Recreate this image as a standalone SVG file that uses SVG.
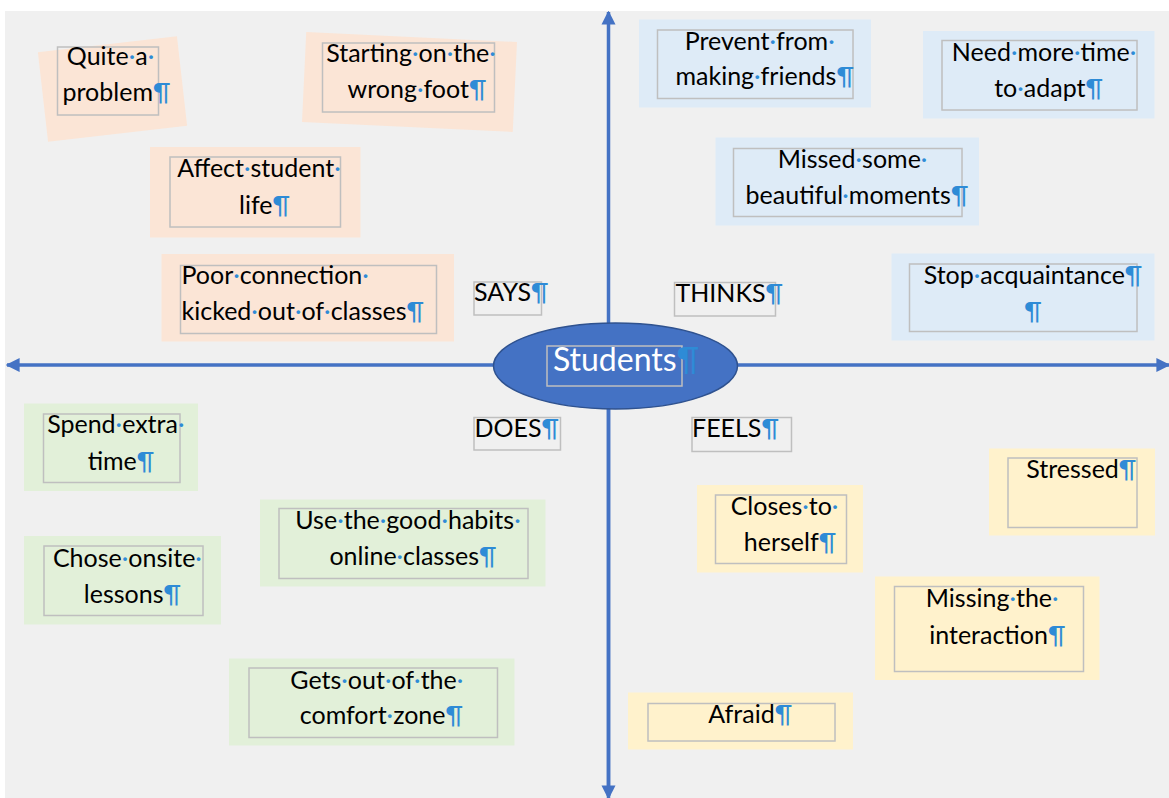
<svg xmlns="http://www.w3.org/2000/svg" width="1169" height="798" viewBox="0 0 1169 798">
<style>
.t{font-family:Lato,"Liberation Sans",sans-serif;font-size:25px;fill:#000;text-anchor:middle}
.l{text-anchor:start}
.m{fill:#2e8bd6}
.box{fill:none;stroke:#bfbfbf;stroke-width:1.5}
.pk{fill:#fbe5d6}
.bl{fill:#deebf7}
.gr{fill:#e2f0d9}
.yl{fill:#fff2cc}
.ax{stroke:#4472c4;stroke-width:3.5;fill:none}
</style>
<defs>
<marker id="ah" viewBox="0 0 10 10" refX="9" refY="5" markerWidth="4" markerHeight="4.3" orient="auto" markerUnits="strokeWidth">
<path d="M0,0 L10,5 L0,10 Z" fill="#4472c4"/>
</marker>
</defs>
<rect x="0" y="0" width="1169" height="798" fill="#ffffff"/>
<rect x="5" y="11" width="1164" height="787" fill="#f0f0f0"/>

<g id="connectors">
<line class="ax" x1="608.5" y1="796" x2="608.5" y2="12" marker-end="url(#ah)"/>
<line class="ax" x1="608.5" y1="366" x2="608.5" y2="798" marker-end="url(#ah)"/>
<line class="ax" x1="615" y1="365" x2="7" y2="365" marker-end="url(#ah)"/>
<line class="ax" x1="615" y1="365" x2="1169" y2="365" marker-end="url(#ah)"/>
</g>

<g id="center">
<ellipse cx="615.5" cy="366" rx="122" ry="43" fill="#4472c4" stroke="#2f528f" stroke-width="1.5"/>
<rect class="box" x="547" y="346" width="135" height="40"/>
<text class="t" x="626" y="371" style="font-size:32px"><tspan fill="#ffffff">Students</tspan><tspan class="m">¶</tspan></text>
</g>

<g id="says-quite">
<rect class="pk" x="42.5" y="44" width="140" height="90" transform="rotate(-6.5 112.5 89)"/>
<rect class="box" x="57.5" y="47" width="101" height="68"/>
<text class="t" x="110.5" y="65">Quite<tspan class="m">·</tspan>a<tspan class="m">·</tspan></text>
<text class="t" x="116.5" y="101">problem<tspan class="m">¶</tspan></text>
</g>

<g id="says-starting">
<rect class="pk" x="304" y="37" width="211" height="90" transform="rotate(2.7 409.5 82)"/>
<rect class="box" x="322.5" y="43" width="172" height="69"/>
<text class="t" x="411" y="62">Starting<tspan class="m">·</tspan>on<tspan class="m">·</tspan>the<tspan class="m">·</tspan></text>
<text class="t" x="417" y="98">wrong<tspan class="m">·</tspan>foot<tspan class="m">¶</tspan></text>
</g>

<g id="says-affect">
<rect class="pk" x="150" y="147" width="210.5" height="90.5"/>
<rect class="box" x="170" y="157" width="170.5" height="70"/>
<text class="t" x="259" y="177">Affect<tspan class="m">·</tspan>student<tspan class="m">·</tspan></text>
<text class="t" x="264.5" y="213.5">life<tspan class="m">¶</tspan></text>
</g>

<g id="says-poor">
<rect class="pk" x="161.5" y="254" width="292.5" height="87.5"/>
<rect class="box" x="180.5" y="265.5" width="256" height="68"/>
<text class="t l" x="181.5" y="283.5">Poor<tspan class="m">·</tspan>connection<tspan class="m">·</tspan></text>
<text class="t l" x="181.5" y="320">kicked<tspan class="m">·</tspan>out<tspan class="m">·</tspan>of<tspan class="m">·</tspan>classes<tspan class="m">¶</tspan></text>
</g>

<g id="label-says">
<rect class="box" x="474" y="282" width="67.5" height="33"/>
<text class="t l" x="474" y="300.5">SAYS<tspan class="m">¶</tspan></text>
</g>

<g id="thinks-prevent">
<rect class="bl" x="639" y="19.5" width="232" height="88"/>
<rect class="box" x="657.5" y="30" width="195.5" height="68.5"/>
<text class="t" x="759.7" y="49.5">Prevent<tspan class="m">·</tspan>from<tspan class="m">·</tspan></text>
<text class="t" x="764.7" y="84.5">making<tspan class="m">·</tspan>friends<tspan class="m">¶</tspan></text>
</g>

<g id="thinks-need">
<rect class="bl" x="923" y="31" width="231.5" height="87.5"/>
<rect class="box" x="942" y="40.5" width="195" height="69.5"/>
<text class="t" x="1044" y="61">Need<tspan class="m">·</tspan>more<tspan class="m">·</tspan>time<tspan class="m">·</tspan></text>
<text class="t" x="1048.6" y="96.5">to<tspan class="m">·</tspan>adapt<tspan class="m">¶</tspan></text>
</g>

<g id="thinks-missed">
<rect class="bl" x="715.5" y="137.5" width="263.5" height="88"/>
<rect class="box" x="733.5" y="148.5" width="228.5" height="68"/>
<text class="t" x="852.5" y="167.5">Missed<tspan class="m">·</tspan>some<tspan class="m">·</tspan></text>
<text class="t" x="857" y="204">beautiful<tspan class="m">·</tspan>moments<tspan class="m">¶</tspan></text>
</g>

<g id="label-thinks">
<rect class="box" x="674.5" y="282.5" width="101" height="33.5"/>
<text class="t l" x="675.5" y="301.5">THINKS<tspan class="m">¶</tspan></text>
</g>

<g id="thinks-stop">
<rect class="bl" x="891.5" y="253.5" width="263" height="87"/>
<rect class="box" x="909.5" y="264" width="227.5" height="67.5"/>
<text class="t" x="1033" y="283.5">Stop<tspan class="m">·</tspan>acquaintance<tspan class="m">¶</tspan></text>
<text class="t" x="1033" y="320"><tspan class="m">¶</tspan></text>
</g>

<g id="does-spend">
<rect class="gr" x="24" y="403.5" width="174" height="87.5"/>
<rect class="box" x="43.5" y="414" width="136.5" height="68.5"/>
<text class="t" x="115.8" y="433">Spend<tspan class="m">·</tspan>extra<tspan class="m">·</tspan></text>
<text class="t" x="121" y="469.5">time<tspan class="m">¶</tspan></text>
</g>

<g id="label-does">
<rect class="box" x="474" y="417.5" width="86.5" height="32.5"/>
<text class="t l" x="474.5" y="436.5">DOES<tspan class="m">¶</tspan></text>
</g>

<g id="does-use">
<rect class="gr" x="260" y="499.5" width="285.5" height="87"/>
<rect class="box" x="279" y="508.5" width="249" height="70"/>
<text class="t" x="408" y="528.5">Use<tspan class="m">·</tspan>the<tspan class="m">·</tspan>good<tspan class="m">·</tspan>habits<tspan class="m">·</tspan></text>
<text class="t" x="413" y="565">online<tspan class="m">·</tspan>classes<tspan class="m">¶</tspan></text>
</g>

<g id="does-chose">
<rect class="gr" x="24" y="536" width="197" height="88.5"/>
<rect class="box" x="44" y="546" width="159" height="69.5"/>
<text class="t" x="127.4" y="567">Chose<tspan class="m">·</tspan>onsite<tspan class="m">·</tspan></text>
<text class="t" x="132.4" y="603">lessons<tspan class="m">¶</tspan></text>
</g>

<g id="does-gets">
<rect class="gr" x="229" y="658.5" width="285.5" height="87"/>
<rect class="box" x="249" y="668" width="248.5" height="69.5"/>
<text class="t" x="376.8" y="688.5">Gets<tspan class="m">·</tspan>out<tspan class="m">·</tspan>of<tspan class="m">·</tspan>the<tspan class="m">·</tspan></text>
<text class="t" x="381.4" y="724">comfort<tspan class="m">·</tspan>zone<tspan class="m">¶</tspan></text>
</g>

<g id="label-feels">
<rect class="box" x="692" y="417.5" width="99.5" height="34"/>
<text class="t l" x="692" y="437">FEELS<tspan class="m">¶</tspan></text>
</g>

<g id="feels-stressed">
<rect class="yl" x="989" y="448.5" width="166" height="87"/>
<rect class="box" x="1008" y="458" width="129" height="69.5"/>
<text class="t" x="1081.3" y="478">Stressed<tspan class="m">¶</tspan></text>
</g>

<g id="feels-closes">
<rect class="yl" x="697" y="485" width="166" height="87.5"/>
<rect class="box" x="715.5" y="495" width="131" height="68.5"/>
<text class="t" x="784.5" y="514.5">Closes<tspan class="m">·</tspan>to<tspan class="m">·</tspan></text>
<text class="t" x="790" y="551">herself<tspan class="m">¶</tspan></text>
</g>

<g id="feels-missing">
<rect class="yl" x="875" y="576.5" width="224.5" height="103.5"/>
<rect class="box" x="894.5" y="586.5" width="189" height="85"/>
<text class="t" x="992.2" y="607">Missing<tspan class="m">·</tspan>the<tspan class="m">·</tspan></text>
<text class="t" x="997.3" y="643.5">interaction<tspan class="m">¶</tspan></text>
</g>

<g id="feels-afraid">
<rect class="yl" x="628" y="692.5" width="225" height="57"/>
<rect class="box" x="648" y="703.5" width="187" height="37.5"/>
<text class="t" x="750.2" y="723">Afraid<tspan class="m">¶</tspan></text>
</g>
</svg>
